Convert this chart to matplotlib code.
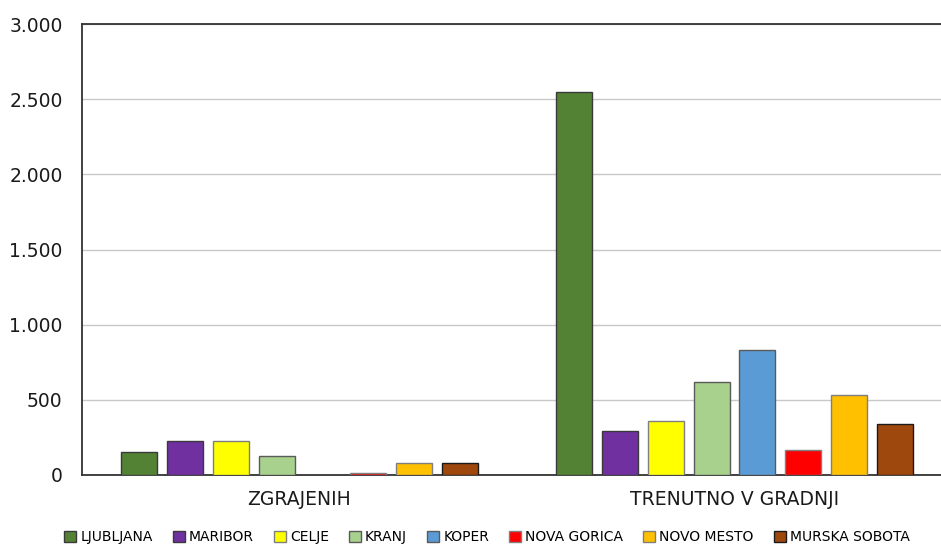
import matplotlib
matplotlib.use("Agg")
import matplotlib.pyplot as plt
import numpy as np
from matplotlib.ticker import FuncFormatter, MultipleLocator

categories = ["ZGRAJENIH", "TRENUTNO V GRADNJI"]
cities = ["LJUBLJANA", "MARIBOR", "CELJE", "KRANJ", "KOPER",
          "NOVA GORICA", "NOVO MESTO", "MURSKA SOBOTA"]
built = [150, 228, 228, 126, 0, 11, 80, 80]
in_construction = [2550, 293, 360, 618, 829, 167, 529, 340]
colors = ["#548235", "#7030A0", "#FFFF00", "#A9D18E", "#5B9BD5",
          "#FF0000", "#FFC000", "#9E480E"]
edges = ["#3a3a3a", "#3a3a3a", "#7f7f7f", "#5a5a5a", "#5a5a5a",
         "#7f7f7f", "#7f7f7f", "#1a1a1a"]

plt.rcParams["font.family"] = ["DejaVu Sans"]

fig = plt.figure(figsize=(9.41, 5.45), dpi=100)
ax = fig.add_axes([82 / 941, 1 - 475 / 545, (952 - 82) / 941, (475 - 24) / 545])

x = np.arange(len(categories))
step = 0.1053
width = 0.0827
values = np.array([built, in_construction])
for i, city in enumerate(cities):
    ax.bar(x + (i - 3.5) * step, values[:, i], width=width,
           color=colors[i], edgecolor=edges[i], linewidth=1.0,
           label=city, zorder=3)

ax.set_xlim(-0.5, 1.5)
ax.set_ylim(0, 3000)
ax.yaxis.set_major_locator(MultipleLocator(500))
ax.yaxis.set_major_formatter(FuncFormatter(lambda v, p: f"{int(v):,}".replace(",", ".")))
ax.grid(axis="y", color="#c8c8c8", linewidth=1.0, zorder=0)
ax.set_xticks(x)
ax.set_xticklabels(categories)
ax.tick_params(axis="both", length=0, labelsize=13.5, colors="#1a1a1a")
ax.tick_params(axis="y", pad=14)
ax.tick_params(axis="x", pad=11)

for side in ["left", "bottom", "top"]:
    ax.spines[side].set_color("#333333")
    ax.spines[side].set_linewidth(1.3)
ax.spines["right"].set_visible(False)

fig.legend(loc="center", bbox_to_anchor=(487 / 941, 1 - 537 / 545), ncol=8,
           frameon=False, fontsize=10, handlelength=0.85, handleheight=0.85,
           handletextpad=0.3, columnspacing=1.45, borderaxespad=0)

fig.savefig("out.png", dpi=100)
